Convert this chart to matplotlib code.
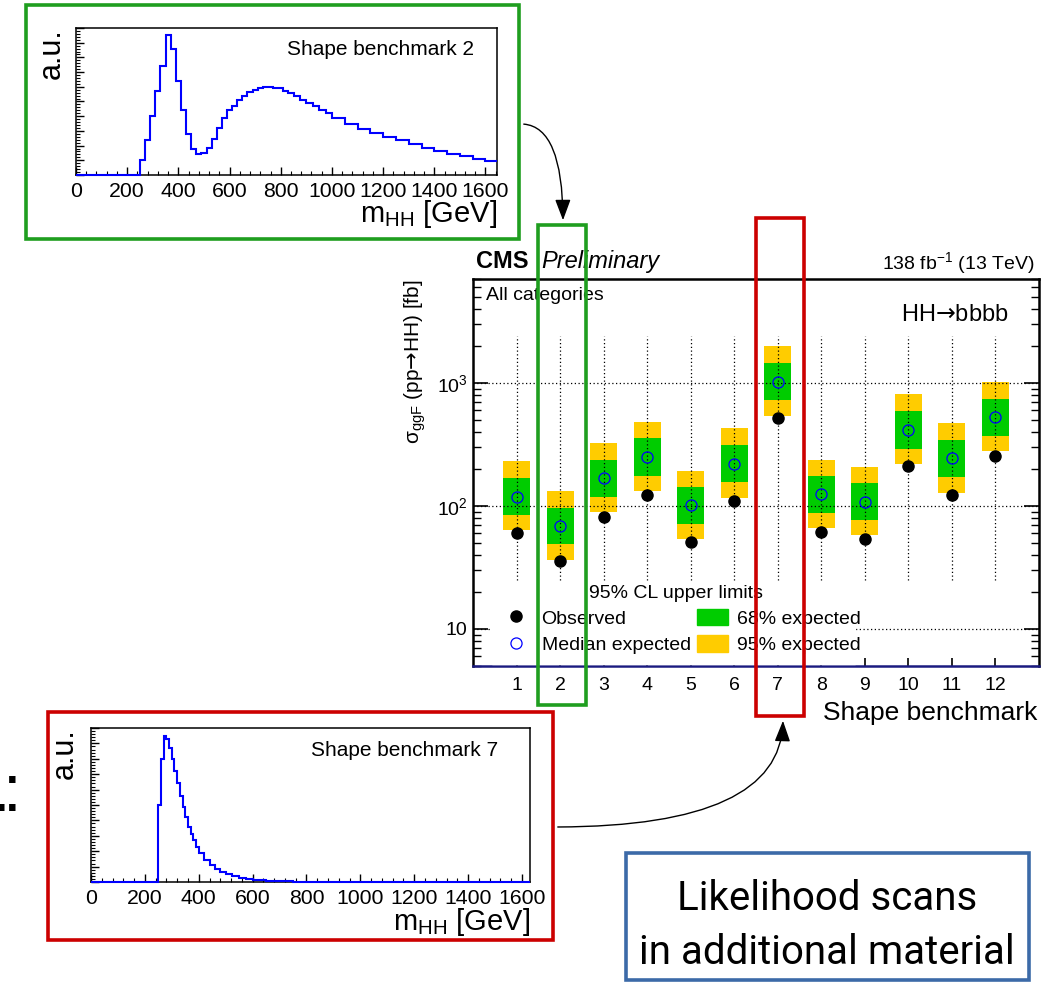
import numpy as np
import matplotlib
matplotlib.use('Agg')
import matplotlib.pyplot as plt
import matplotlib.transforms as mtransforms
from matplotlib.patches import Rectangle, FancyArrowPatch, Patch
from matplotlib.lines import Line2D
from matplotlib.ticker import FixedLocator, FixedFormatter, LogLocator, MultipleLocator, NullFormatter

plt.rcParams['font.family'] = ['Liberation Sans', 'DejaVu Sans']
plt.rcParams['mathtext.fontset'] = 'custom'
plt.rcParams['mathtext.rm'] = 'Liberation Sans'
plt.rcParams['mathtext.it'] = 'Liberation Sans:italic'
plt.rcParams['mathtext.bf'] = 'Liberation Sans:bold'
plt.rcParams['mathtext.sf'] = 'DejaVu Sans'   # used only for the long arrow
plt.rcParams['mathtext.default'] = 'regular'
ARROW = '$\\mathsf{\u2192}$'

# ---- 95% CL limits on sigma(ggF -> HH) [fb], per shape benchmark
benchmarks = [1, 2, 3, 4, 5, 6, 7, 8, 9, 10, 11, 12]
observed = [60, 36, 82, 122, 51, 110, 515, 61, 54, 211, 123, 257]
exp_median = [119, 69, 169, 249, 101, 221, 1025, 124, 108, 414, 245, 525]
exp_68_lo = [85, 49, 119, 176, 72, 157, 722, 87, 77, 292, 172, 371]
exp_68_hi = [169, 97, 237, 354, 143, 314, 1456, 175, 154, 587, 345, 745]
exp_95_lo = [64, 36.5, 89, 132, 54, 117, 538, 66, 58, 219, 128, 279]
exp_95_hi = [230, 132, 324, 484, 193, 430, 1987, 237, 208, 807, 475, 1011]

# ---- m_HH shapes (arbitrary units)
bm2_edges = [0, 250, 270, 290, 310, 330, 350, 370, 390, 410, 430, 450, 470, 490, 510,
             530, 550, 570, 590, 610, 630, 650, 670, 690, 710, 730, 750, 770, 790, 810,
             830, 850, 875, 900, 925, 950, 975, 1000, 1050, 1100, 1150, 1200, 1250, 1300,
             1350, 1400, 1450, 1500, 1550, 1600, 1645]
bm2_vals = [0.0, 0.10, 0.24, 0.40, 0.57, 0.74, 0.95, 0.86, 0.64, 0.44, 0.28, 0.18, 0.146,
            0.15, 0.187, 0.244, 0.32, 0.387, 0.44, 0.47, 0.51, 0.54, 0.563, 0.58, 0.59,
            0.60, 0.60, 0.59, 0.595, 0.574, 0.555, 0.535, 0.51, 0.49, 0.468, 0.445, 0.42,
            0.39, 0.35, 0.315, 0.285, 0.26, 0.235, 0.21, 0.185, 0.165, 0.145, 0.128, 0.11,
            0.097]
bm7_edges = [0, 250, 260, 270, 280, 290, 300, 310, 320, 330, 340, 350, 360, 370, 380, 390,
             400, 420, 440, 460, 480, 500, 525, 550, 575, 600, 650, 700, 750, 800, 900, 1630]
bm7_vals = [0.0, 0.50, 0.80, 0.95, 0.93, 0.87, 0.80, 0.72, 0.64, 0.56, 0.49, 0.42, 0.36,
            0.31, 0.27, 0.23, 0.19, 0.145, 0.11, 0.085, 0.066, 0.05, 0.038, 0.029, 0.022,
            0.015, 0.009, 0.005, 0.003, 0.0015, 0.0]

W, H = 1045, 985
fig = plt.figure(figsize=(W / 100, H / 100), dpi=100)
px = mtransforms.Affine2D().scale(1 / W, -1 / H).translate(0, 1) + fig.transFigure


def frac(x0, y0, x1, y1):
    return [x0 / W, 1 - y1 / H, (x1 - x0) / W, (y1 - y0) / H]


# ================= main limit plot =================
ax = fig.add_axes(frac(473, 279, 1039, 666))
ax.bar(benchmarks, np.subtract(exp_95_hi, exp_95_lo), bottom=exp_95_lo, width=0.62,
       color='#ffcc00', zorder=2)
ax.bar(benchmarks, np.subtract(exp_68_hi, exp_68_lo), bottom=exp_68_lo, width=0.62,
       color='#00cc00', zorder=3)
ax.vlines(benchmarks, 25, 2400, colors='k', linestyles=(0, (1, 2)), lw=0.9, zorder=4)
for yv in [10, 100, 1000]:
    ax.axhline(yv, color='k', ls=(0, (1, 2)), lw=0.9, zorder=4)
ax.plot(benchmarks, observed, 'o', color='k', ms=8, zorder=7)
ax.plot(benchmarks, exp_median, 'o', mfc='none', mec='#0000ff', ms=8, mew=0.9, zorder=7)

ax.set_yscale('log')
ax.set_ylim(5, 7000)
ax.set_xlim(0, 13)
ax.set_xticks(benchmarks)
ax.set_xticklabels([str(b) for b in benchmarks])
ax.yaxis.set_major_locator(FixedLocator([10, 100, 1000]))
ax.yaxis.set_major_formatter(FixedFormatter(['10', '$10^{2}$', '$10^{3}$']))
ax.yaxis.set_minor_locator(LogLocator(base=10, subs=np.arange(2, 10)))
ax.yaxis.set_minor_formatter(NullFormatter())
ax.tick_params(axis='x', which='both', direction='in', top=False, length=6, width=1.2,
               labelsize=14, pad=8)
ax.tick_params(axis='x', which='minor', length=0)
ax.tick_params(axis='y', which='major', direction='in', left=True, right=True, length=11,
               width=1.2, labelsize=14, pad=4)
ax.tick_params(axis='y', which='minor', direction='in', left=True, right=True, length=6,
               width=1.0)
for s in ax.spines.values():
    s.set_linewidth(1.8)
ax.spines['bottom'].set_color('#1a1a80')

ax.text(0.0053, 1.0284, 'CMS', transform=ax.transAxes, fontsize=17, fontweight='bold',
        va='baseline', ha='left')
ax.text(0.120, 1.0284, 'Preliminary', transform=ax.transAxes, fontsize=17,
        fontstyle='italic', va='baseline', ha='left')
ax.text(0.992, 1.0258, '138 fb$^{-1}$ (13 TeV)', transform=ax.transAxes, fontsize=14,
        va='baseline', ha='right')
ax.text(0.023, 0.9457, 'All categories', transform=ax.transAxes, fontsize=14,
        va='baseline', ha='left')
ax.text(0.947, 0.8915, 'HH' + ARROW + 'bbbb', transform=ax.transAxes, fontsize=17,
        va='baseline', ha='right')
ax.text(-0.1025, 1.0, r'$\sigma_{ggF}$ (pp' + ARROW + 'HH) [fb]', transform=ax.transAxes,
        fontsize=15, rotation=90, ha='center', va='top')
ax.text(0.9965, -0.121, 'Shape benchmark', transform=ax.transAxes, fontsize=19,
        ha='right', va='center')

# legend
ax.add_patch(Rectangle((0.034, 0.005), 0.641, 0.209, transform=ax.transAxes,
                       color='white', zorder=5))
ax.text(0.205, 0.1886, '95% CL upper limits', transform=ax.transAxes, fontsize=14,
        ha='left', va='center', zorder=8)
handles = [Line2D([], [], ls='none', marker='o', color='k', ms=8),
           Line2D([], [], ls='none', marker='o', mfc='none', mec='#0000ff', ms=8, mew=0.9),
           Patch(color='#00cc00'), Patch(color='#ffcc00')]
labels = ['Observed', 'Median expected', '68% expected', '95% expected']
leg = ax.legend(handles, labels, ncol=2, loc='upper left', bbox_to_anchor=(0.049, 0.148),
                frameon=False, fontsize=14, handlelength=1.6, handleheight=0.9,
                handletextpad=0.5, columnspacing=0.3, labelspacing=0.41, borderpad=0,
                borderaxespad=0)
leg.set_zorder(8)


# ================= m_HH insets =================
def shape_inset(rect, edges, vals, xmax, label):
    a = fig.add_axes(rect)
    a.stairs(vals, edges, color='#0000ff', lw=1.5, baseline=None, zorder=3, clip_on=False)
    a.set_xlim(0, xmax)
    a.set_ylim(0, 1)
    a.xaxis.set_major_locator(MultipleLocator(200))
    a.xaxis.set_minor_locator(MultipleLocator(40))
    a.yaxis.set_major_locator(MultipleLocator(0.1))
    a.yaxis.set_minor_locator(MultipleLocator(0.02))
    a.yaxis.set_major_formatter(NullFormatter())
    a.tick_params(which='both', direction='in', top=False, right=False)
    a.tick_params(which='major', length=6, width=1.0, labelsize=15.3, pad=5)
    a.tick_params(which='minor', length=3, width=0.8)
    for s in a.spines.values():
        s.set_linewidth(1.1)
    a.text(0.502, 0.857, label, transform=a.transAxes, fontsize=15, ha='left', va='center')
    return a


ax2 = shape_inset(frac(76, 28, 497, 175), bm2_edges, bm2_vals, 1645, 'Shape benchmark 2')
ax2.text(-0.0577, 1.0, 'a.u.', transform=ax2.transAxes, fontsize=22, rotation=90,
         ha='center', va='top')
ax2.text(1.0, -0.32, 'm$_{HH}$ [GeV]', transform=ax2.transAxes, fontsize=21,
         ha='right', va='baseline')

ax7 = shape_inset(frac(91, 728, 530, 882), bm7_edges, bm7_vals, 1630, 'Shape benchmark 7')
ax7.text(-0.059, 1.0, 'a.u.', transform=ax7.transAxes, fontsize=22, rotation=90,
         ha='center', va='top')
ax7.text(1.0, -0.312, 'm$_{HH}$ [GeV]', transform=ax7.transAxes, fontsize=21,
         ha='right', va='baseline')

# ================= frames, highlights and arrows =================
green = '#1f9e1f'
red = '#cc0000'
fig.add_artist(Rectangle((26, 5), 493, 234, transform=px, fill=False, ec=green, lw=2.6,
                         zorder=20))
fig.add_artist(Rectangle((48, 712), 505, 228, transform=px, fill=False, ec=red, lw=2.6,
                         zorder=20))
fig.add_artist(Rectangle((626, 853), 403, 127, transform=px, fill=False, ec='#3c6aa8',
                         lw=2.6, zorder=20))

# boxes around the highlighted benchmarks (x in data units, y in figure)
bt = mtransforms.blended_transform_factory(ax.transData, fig.transFigure)
for bm, y_top, y_bot, col in [(2, 225, 705, green), (7, 218, 716, red)]:
    fig.add_artist(Rectangle((bm - 0.5, 1 - y_bot / H), 1.1, (y_bot - y_top) / H,
                             transform=bt, fill=False, ec=col, lw=2.6, zorder=20))

arrow_kw = dict(transform=px, arrowstyle='-|>,head_length=0.8,head_width=0.3',
                mutation_scale=16, lw=1.0, color='k', zorder=21,
                connectionstyle='angle3,angleA=0,angleB=90')
fig.add_artist(FancyArrowPatch((521, 124), (563, 223), **arrow_kw))
fig.add_artist(FancyArrowPatch((555, 827), (783, 718), **arrow_kw))

# text box
box_font = ['Roboto', 'DejaVu Sans']
fig.text(827 / W, 1 - 898 / H, 'Likelihood scans', fontsize=29, ha='center', va='center',
         family=box_font)
fig.text(827 / W, 1 - 952 / H, 'in additional material', fontsize=29, ha='center',
         va='center', family=box_font)

# slide text cut off at the left edge
fig.text(12 / W, 1 - 811 / H, ':', fontsize=48, ha='center', va='baseline')
fig.text(1 / W, 1 - 811 / H, '.', fontsize=48, ha='center', va='baseline')

fig.savefig('out.png', dpi=100)
